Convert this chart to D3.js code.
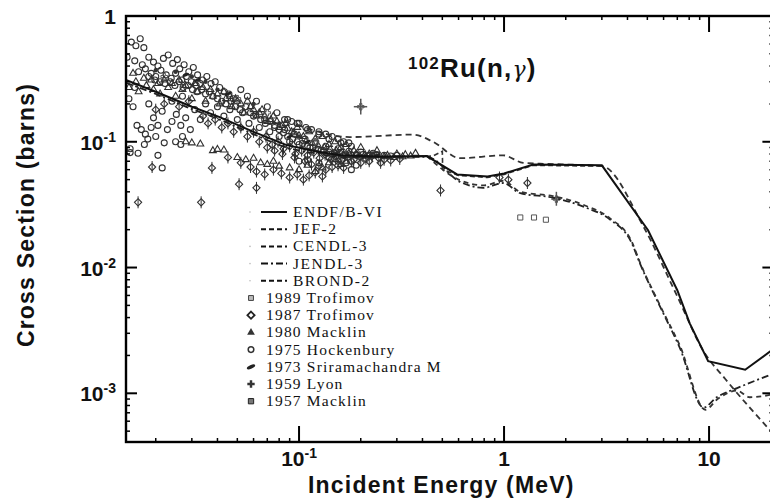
<!DOCTYPE html>
<html><head><meta charset="utf-8">
<script src="https://cdn.jsdelivr.net/npm/d3@7"></script>
<style>body{margin:0;background:#fff}</style></head>
<body><svg id="c" width="770" height="502"></svg>
<script>
// ---------- data ----------
const xTicks = [0.1, 1, 10];
const xTickLabels = [["10","-1"],["1",""],["10",""]];
const yTicks = [1, 0.1, 0.01, 0.001];
const yTickLabels = [["1",""],["10","-1"],["10","-2"],["10","-3"]];

const endf = [[0.0143,0.31],[0.02,0.25],[0.03,0.19],[0.041,0.157],[0.06,0.12],[0.087,0.094],[0.12,0.084],[0.16,0.078],[0.25,0.076],[0.42,0.077],[0.59,0.055],[0.83,0.053],[1.0,0.056],[1.39,0.066],[3.0,0.065],[5.04,0.0198],[7.0,0.0066],[8.05,0.0036],[9.9,0.0018],[15,0.00154],[21,0.0023]];
const jef2 = [[0.098,0.136],[0.177,0.109],[0.36,0.114],[0.45,0.1],[0.61,0.074],[0.99,0.078],[1.24,0.068],[1.5,0.067],[3.0,0.064],[4.8,0.021],[6.9,0.0062],[9.5,0.0021],[12,0.0013],[21,0.00046]];
const cendl3 = [[0.1,0.091],[0.16,0.077],[0.3,0.076],[0.45,0.077],[0.5,0.084],[0.502,0.06],[0.6,0.054],[0.83,0.052],[1.0,0.055],[1.39,0.065],[3.0,0.064]];
const jendl3 = [[0.0143,0.295],[0.02,0.24],[0.03,0.182],[0.041,0.15],[0.06,0.115],[0.087,0.09],[0.12,0.081],[0.16,0.076],[0.3,0.076],[0.42,0.076],[0.61,0.048],[0.79,0.043],[0.99,0.047],[1.2,0.039],[1.73,0.036],[2.5,0.030],[3.3,0.024],[4.2,0.0156],[4.6,0.0108],[5.8,0.0048],[7.2,0.0023],[9.4,0.00077],[10.9,0.00093],[13.7,0.0011],[21,0.00145]];
const brond2 = [[0.42,0.077],[0.6,0.05],[0.8,0.045],[0.99,0.049],[1.2,0.04],[1.73,0.037],[2.5,0.031],[3.3,0.0245],[4.2,0.016],[4.6,0.011],[5.8,0.0049],[7.2,0.0024],[9.6,0.00074],[11,0.0009],[13.7,0.00105],[15.8,0.00093],[21,0.00099]];

const hockenbury1975 = [[0.0152,0.62],[0.016,0.58],[0.0168,0.66],[0.0175,0.56],[0.0145,0.47],[0.0158,0.44],[0.0172,0.41],[0.0185,0.47],[0.0195,0.43],[0.0205,0.4],[0.0218,0.46],[0.023,0.49],[0.0242,0.42],[0.0255,0.45],[0.0262,0.38],[0.0275,0.41],[0.029,0.36],[0.0305,0.39],[0.032,0.34],[0.0338,0.31],[0.0355,0.33],[0.0372,0.29],[0.039,0.3],[0.041,0.27],[0.0432,0.25],[0.0455,0.24],[0.0478,0.22],[0.0165,0.36],[0.0178,0.38],[0.019,0.35],[0.02,0.33],[0.0212,0.37],[0.0225,0.34],[0.0238,0.32],[0.025,0.35],[0.0268,0.31],[0.0282,0.33],[0.0298,0.3],[0.0315,0.28],[0.033,0.29],[0.0148,0.22],[0.0155,0.19],[0.0162,0.135],[0.017,0.125],[0.0178,0.115],[0.0183,0.105],[0.0176,0.095],[0.015,0.088],[0.015,0.082],[0.0164,0.081],[0.0195,0.155],[0.0205,0.135],[0.0215,0.175],[0.0228,0.125],[0.024,0.145],[0.0252,0.165],[0.0265,0.135],[0.028,0.155],[0.0295,0.125],[0.031,0.18],[0.033,0.15],[0.035,0.2],[0.037,0.17],[0.04,0.19],[0.043,0.16],[0.046,0.18],[0.05,0.15],[0.053,0.17],[0.057,0.14],[0.06,0.16],[0.064,0.13],[0.068,0.15],[0.072,0.12],[0.076,0.135],[0.08,0.11],[0.085,0.125],[0.09,0.1],[0.095,0.115],[0.1,0.095],[0.107,0.105],[0.113,0.09],[0.12,0.098],[0.128,0.085],[0.135,0.092],[0.145,0.08],[0.155,0.088],[0.165,0.078],[0.175,0.084],[0.19,0.079],[0.2,0.083],[0.215,0.077],[0.23,0.081],[0.0215,0.062],[0.0205,0.078],[0.024,0.21],[0.027,0.23],[0.0185,0.2],[0.0158,0.27],[0.052,0.26],[0.056,0.23],[0.062,0.21],[0.07,0.19],[0.078,0.17],[0.088,0.15],[0.098,0.14],[0.11,0.125],[0.125,0.115],[0.14,0.105],[0.16,0.098],[0.18,0.092],
[0.0185,0.33],[0.0198,0.31],[0.021,0.3],[0.0222,0.29],[0.0235,0.3],[0.0248,0.28],[0.026,0.3],[0.0272,0.27],[0.0288,0.28],[0.0302,0.26],[0.0318,0.25],[0.0335,0.26],[0.035,0.24],[0.0365,0.25],[0.038,0.23],[0.04,0.22],[0.042,0.21],[0.044,0.2],[0.0465,0.21],[0.049,0.19],[0.0515,0.18],[0.055,0.19],[0.058,0.17],[0.0615,0.165],[0.065,0.15],[0.0685,0.14],[0.072,0.145],[0.076,0.13],[0.08,0.125],[0.084,0.118],[0.088,0.11],[0.093,0.105],[0.098,0.1],[0.104,0.097],[0.11,0.093],[0.117,0.09],[0.124,0.087],[0.132,0.085],[0.14,0.083],[0.149,0.082],[0.158,0.081],[0.168,0.08],[0.179,0.079],[0.192,0.078],[0.205,0.079],[0.22,0.078],[0.24,0.079],[0.26,0.078],[0.28,0.077],[0.3,0.078],
[0.085,0.15],[0.092,0.145],[0.1,0.14],[0.108,0.13],[0.115,0.125],[0.125,0.12],[0.135,0.115],[0.145,0.11],[0.155,0.105],[0.165,0.1],[0.175,0.098],[0.1,0.07],[0.11,0.072],[0.125,0.068],[0.14,0.075],[0.155,0.07],[0.17,0.068],[0.18,0.06],[0.19,0.065],[0.02,0.11],[0.022,0.098],[0.025,0.1],[0.027,0.11],[0.019,0.13],[0.0265,0.095]];
const macklin1980 = [[0.0148,0.27],[0.0155,0.35],[0.0165,0.25],[0.018,0.28],[0.0195,0.26],[0.021,0.24],[0.023,0.27],[0.025,0.23],[0.027,0.26],[0.03,0.22],[0.032,0.25],[0.035,0.21],[0.038,0.23],[0.041,0.2],[0.044,0.22],[0.047,0.19],[0.05,0.21],[0.054,0.17],[0.058,0.19],[0.062,0.16],[0.066,0.18],[0.07,0.145],[0.075,0.16],[0.08,0.13],[0.086,0.14],[0.092,0.12],[0.098,0.13],[0.105,0.11],[0.112,0.12],[0.12,0.105],[0.13,0.11],[0.14,0.095],[0.15,0.1],[0.16,0.09],[0.17,0.095],[0.185,0.085],[0.2,0.09],[0.22,0.08],[0.24,0.085],[0.27,0.078],[0.3,0.08],[0.33,0.079],[0.37,0.081],[0.028,0.1],[0.03,0.098],[0.033,0.096],[0.038,0.085],[0.04,0.087],[0.043,0.086],[0.05,0.075],[0.055,0.072],[0.06,0.074],[0.065,0.068],[0.07,0.066],[0.075,0.07],[0.08,0.064],[0.09,0.062],[0.1,0.06],[0.11,0.065],[0.12,0.058],[0.13,0.062],[0.14,0.068],[0.15,0.072],[0.16,0.066],[0.17,0.07],
[0.016,0.3],[0.0175,0.32],[0.019,0.31],[0.0205,0.29],[0.022,0.31],[0.024,0.29],[0.026,0.31],[0.028,0.28],[0.031,0.29],[0.034,0.27],[0.037,0.26],[0.04,0.24],[0.043,0.25],[0.046,0.23],[0.049,0.22],[0.052,0.2],[0.056,0.21],[0.06,0.18],[0.064,0.17],[0.068,0.16],[0.073,0.15],[0.078,0.145],[0.083,0.135],[0.088,0.128],[0.094,0.118],[0.1,0.112],[0.108,0.1],[0.116,0.097],[0.124,0.093],[0.133,0.09],[0.142,0.087],[0.152,0.085],[0.162,0.083],[0.175,0.081],[0.19,0.08],[0.21,0.079],[0.23,0.077],[0.26,0.076],[0.29,0.075],[0.32,0.076],[0.35,0.077]];
const trofimov1987 = [[0.02,0.18],[0.022,0.2],[0.026,0.19],[0.029,0.21],[0.034,0.16],[0.036,0.14],[0.039,0.15],[0.042,0.13],[0.045,0.14],[0.048,0.12],[0.052,0.13],[0.056,0.11],[0.06,0.12],[0.064,0.1],[0.069,0.11],[0.074,0.095],[0.079,0.1],[0.084,0.088],[0.09,0.092],[0.096,0.08],[0.103,0.085],[0.11,0.078],[0.118,0.082],[0.126,0.074],[0.134,0.079],[0.143,0.072],[0.152,0.077],[0.162,0.071],[0.173,0.075],[0.185,0.072],[0.198,0.076],[0.212,0.073],[0.227,0.077],[0.245,0.074],[0.26,0.072],[0.045,0.075],[0.052,0.068],[0.058,0.063],[0.062,0.058],[0.068,0.055],[0.075,0.06],[0.082,0.056],[0.09,0.052],[0.098,0.055],[0.105,0.05],[0.112,0.054],[0.12,0.057],[0.13,0.053],[0.0192,0.063],[0.0376,0.062],[0.0164,0.033],[0.0333,0.033],[0.051,0.046],[0.062,0.043],[0.49,0.041],[0.95,0.052],[1.05,0.05],[1.3,0.047],
[0.07,0.09],[0.076,0.085],[0.083,0.08],[0.095,0.075],[0.107,0.07],[0.115,0.066],[0.125,0.064],[0.135,0.06],[0.145,0.063],[0.155,0.065],[0.165,0.062],[0.18,0.07],[0.2,0.068],[0.22,0.07],[0.25,0.068],[0.28,0.071],[0.31,0.073]];
const trofimov1989 = [[1.2,0.025],[1.4,0.025],[1.6,0.024]];
const sriram1973 = [[0.15,0.078],[0.17,0.076],[0.19,0.077],[0.21,0.076],[0.24,0.078],[0.028,0.34],[0.032,0.31],[0.045,0.24],[0.09,0.11],[0.11,0.1]];
const lyon1959 = [[0.02,0.37],[0.025,0.36],[0.03,0.33],[0.035,0.3],[0.04,0.26],[0.06,0.2],[0.08,0.14],[0.1,0.11]];
const macklin1957 = [[0.022,0.33],[0.05,0.22],[0.07,0.17],[0.12,0.1],[0.2,0.19],[1.8,0.035]];
const macklin1957Err = [[0.2,0.19,0.185,0.215,0.165,0.22],[1.8,0.035,1.7,1.9,0.031,0.04]];

const curveNames = ["ENDF/B-VI","JEF-2","CENDL-3","JENDL-3","BROND-2"];
const dataNames = ["1989 Trofimov","1987 Trofimov","1980 Macklin","1975 Hockenbury","1973 Sriramachandra M","1959 Lyon","1957 Macklin"];

// ---------- chart ----------
const svg = d3.select("#c");
const L = 126, T = 16, B = 442;
const x = d3.scaleLog().domain([0.01432, 20.6]).range([L, 773.4]);
const y = d3.scaleLog().domain([4.1e-4, 1]).range([B, T]);
const R = x.range()[1];

svg.append("defs").append("clipPath").attr("id","clip")
  .append("rect").attr("x",L).attr("y",T).attr("width",R-L).attr("height",B-T);

const plot = svg.append("g").attr("clip-path","url(#clip)");
const mk = "#303030";

function sym(type, size){ return d3.symbol().type(type).size(size)(); }
const diamondPath = "M0,-3.6L3.6,0L0,3.6L-3.6,0Z";

plot.append("g").selectAll("circle").data(hockenbury1975).join("circle")
  .attr("cx",d=>x(d[0])).attr("cy",d=>y(d[1])).attr("r",3)
  .attr("fill","none").attr("stroke",mk).attr("stroke-width",1.1);
plot.append("g").selectAll("path").data(macklin1980).join("path")
  .attr("d",sym(d3.symbolTriangle,20))
  .attr("transform",d=>`translate(${x(d[0])},${y(d[1])})`)
  .attr("fill","none").attr("stroke",mk).attr("stroke-width",1.1);
const tg = plot.append("g").selectAll("g").data(trofimov1987).join("g")
  .attr("transform",d=>`translate(${x(d[0])},${y(d[1])})`);
tg.append("path").attr("d",diamondPath).attr("fill","none").attr("stroke",mk).attr("stroke-width",1.1);
tg.append("line").attr("y1",-6).attr("y2",6).attr("stroke",mk).attr("stroke-width",1);
plot.append("g").selectAll("path").data(trofimov1989).join("path")
  .attr("d",sym(d3.symbolSquare,26))
  .attr("transform",d=>`translate(${x(d[0])},${y(d[1])})`)
  .attr("fill","none").attr("stroke","#555").attr("stroke-width",1);
plot.append("g").selectAll("ellipse").data(sriram1973).join("ellipse")
  .attr("rx",3.5).attr("ry",1.5)
  .attr("transform",d=>`translate(${x(d[0])},${y(d[1])}) rotate(-25)`)
  .attr("fill","#222");
plot.append("g").selectAll("circle").data(lyon1959).join("circle")
  .attr("cx",d=>x(d[0])).attr("cy",d=>y(d[1])).attr("r",2.2)
  .attr("fill","#333");
plot.append("g").selectAll("path").data(macklin1957).join("path")
  .attr("d",sym(d3.symbolCross,24))
  .attr("transform",d=>`translate(${x(d[0])},${y(d[1])})`)
  .attr("fill","none").attr("stroke","#555").attr("stroke-width",1);
const eb = plot.append("g").selectAll("g").data(macklin1957Err).join("g");
eb.append("line").attr("x1",d=>x(d[2])).attr("x2",d=>x(d[3])).attr("y1",d=>y(d[1])).attr("y2",d=>y(d[1]))
  .attr("stroke","#555").attr("stroke-width",1.5);
eb.append("line").attr("x1",d=>x(d[0])).attr("x2",d=>x(d[0])).attr("y1",d=>y(d[4])).attr("y2",d=>y(d[5]))
  .attr("stroke","#555").attr("stroke-width",1.5);

// curves
const line = d3.line().x(d=>x(d[0])).y(d=>y(d[1])).curve(d3.curveMonotoneX);
const lineLin = d3.line().x(d=>x(d[0])).y(d=>y(d[1]));
const curves = [
  {d:jendl3, dash:"7,3,2,3", w:1.8, c:"#222", f:line},
  {d:brond2, dash:"5,4", w:1.8, c:"#333", f:line},
  {d:cendl3, dash:"5,3", w:1.6, c:"#333", f:lineLin},
  {d:jef2, dash:"6,4", w:1.8, c:"#333", f:line},
  {d:endf, dash:null, w:2, c:"#111", f:lineLin}
];
curves.forEach(cv=>{
  plot.append("path").attr("d",cv.f(cv.d)).attr("fill","none")
    .attr("stroke",cv.c).attr("stroke-width",cv.w)
    .attr("stroke-dasharray",cv.dash);
});

// frame
svg.append("rect").attr("x",L).attr("y",T).attr("width",R-L).attr("height",B-T)
  .attr("fill","none").attr("stroke","#000").attr("stroke-width",2.4);

// ticks
const ax = svg.append("g").attr("stroke","#000");
const xMinor = [], yMinor = [];
for (let p=-2;p<=1;p++) for (let m=2;m<=9;m++){ const v=m*Math.pow(10,p); if(v>x.domain()[0]&&v<x.domain()[1]) xMinor.push(v); }
for (let p=-4;p<=-1;p++) for (let m=2;m<=9;m++){ const v=m*Math.pow(10,p); if(v>y.domain()[0]&&v<y.domain()[1]) yMinor.push(v); }
xMinor.forEach(v=>{
  ax.append("line").attr("x1",x(v)).attr("x2",x(v)).attr("y1",B).attr("y2",B-4).attr("stroke-width",1.5);
  ax.append("line").attr("x1",x(v)).attr("x2",x(v)).attr("y1",T).attr("y2",T+4).attr("stroke-width",1.5);
});
xTicks.forEach(v=>{
  ax.append("line").attr("x1",x(v)).attr("x2",x(v)).attr("y1",B).attr("y2",B-16).attr("stroke-width",2);
  ax.append("line").attr("x1",x(v)).attr("x2",x(v)).attr("y1",T).attr("y2",T+16).attr("stroke-width",2);
});
yMinor.forEach(v=>{
  ax.append("line").attr("x1",L).attr("x2",L+4).attr("y1",y(v)).attr("y2",y(v)).attr("stroke-width",1.5);
  ax.append("line").attr("x1",R).attr("x2",R-4).attr("y1",y(v)).attr("y2",y(v)).attr("stroke-width",1.5);
});
yTicks.forEach(v=>{
  ax.append("line").attr("x1",L).attr("x2",L+11).attr("y1",y(v)).attr("y2",y(v)).attr("stroke-width",2);
  ax.append("line").attr("x1",R).attr("x2",R-11).attr("y1",y(v)).attr("y2",y(v)).attr("stroke-width",2);
});

// tick labels
const bold = "'Liberation Sans', Arial, sans-serif";
yTicks.forEach((v,i)=>{
  const t = svg.append("text").attr("x",116).attr("y",y(v)+8).attr("text-anchor","end")
    .attr("font-family",bold).attr("font-weight","bold").attr("font-size",21).attr("fill","#111");
  t.append("tspan").text(yTickLabels[i][0]);
  if (yTickLabels[i][1]) t.append("tspan").attr("dy",-8).attr("font-size",14).text(yTickLabels[i][1]);
});
xTicks.forEach((v,i)=>{
  const t = svg.append("text").attr("x",x(v)).attr("y",466).attr("text-anchor","middle")
    .attr("font-family",bold).attr("font-weight","bold").attr("font-size",21).attr("fill","#111");
  t.append("tspan").text(xTickLabels[i][0]);
  if (xTickLabels[i][1]) t.append("tspan").attr("dy",-8).attr("font-size",14).text(xTickLabels[i][1]);
});

// axis titles
svg.append("text").attr("x",308).attr("y",493)
  .attr("font-family",bold).attr("font-weight","bold").attr("font-size",23).attr("letter-spacing",1.2).attr("fill","#111")
  .text("Incident Energy (MeV)");
svg.append("text").attr("transform","translate(34,215) rotate(-90)").attr("text-anchor","middle")
  .attr("font-family",bold).attr("font-weight","bold").attr("font-size",23).attr("letter-spacing",1.2).attr("fill","#111")
  .text("Cross Section (barns)");

// title
const tt = svg.append("text").attr("x",408).attr("y",77)
  .attr("font-family",bold).attr("font-weight","bold").attr("font-size",26).attr("letter-spacing",1.2).attr("fill","#111");
tt.append("tspan").attr("font-size",17).attr("dy",-8).text("102");
tt.append("tspan").attr("dy",8).text("Ru(n,");
tt.append("tspan").attr("font-family","'DejaVu Serif', serif").attr("font-weight","normal").attr("font-style","italic").attr("font-size",22).text("γ");
tt.append("tspan").text(")");

// legend
const serif = "'Liberation Serif', 'Times New Roman', serif";
const lg = svg.append("g");
const rowY = i => 212 + i*17.2;
const legDash = [null,"5,3","5,3","7,3,2,3","5,3"];
curveNames.forEach((n,i)=>{
  lg.append("line").attr("x1",261).attr("x2",287).attr("y1",rowY(i)).attr("y2",rowY(i))
    .attr("stroke","#111").attr("stroke-width",2).attr("stroke-dasharray",legDash[i]);
  lg.append("circle").attr("cx",250).attr("cy",rowY(i)).attr("r",0.8).attr("fill","#bbb");
  lg.append("text").attr("x",293).attr("y",rowY(i)+5).attr("font-family",serif)
    .attr("font-size",15.5).attr("letter-spacing",1.5).attr("fill","#111").text(n);
});
dataNames.forEach((n,j)=>{
  const i = j+5, cy = rowY(i), g = lg.append("g").attr("transform",`translate(251,${cy})`);
  if (j===0) g.append("path").attr("d",sym(d3.symbolSquare,24)).attr("fill","#bbb").attr("stroke","#444");
  if (j===1) g.append("path").attr("d",diamondPath).attr("fill","#fff").attr("stroke","#222").attr("stroke-width",1.8);
  if (j===2) g.append("path").attr("d",sym(d3.symbolTriangle,26)).attr("fill","#333");
  if (j===3) g.append("circle").attr("r",2.8).attr("fill","none").attr("stroke","#333").attr("stroke-width",1.5);
  if (j===4) g.append("ellipse").attr("rx",4.5).attr("ry",1.8).attr("transform","rotate(-25)").attr("fill","#222");
  if (j===5) g.append("path").attr("d",sym(d3.symbolCross,30)).attr("fill","#333");
  if (j===6) g.append("path").attr("d",sym(d3.symbolSquare,28)).attr("fill","#777").attr("stroke","#222");
  lg.append("text").attr("x",266).attr("y",cy+5).attr("font-family",serif)
    .attr("font-size",15.5).attr("letter-spacing",1.2).attr("fill","#111").text(n);
});
</script></body></html>
